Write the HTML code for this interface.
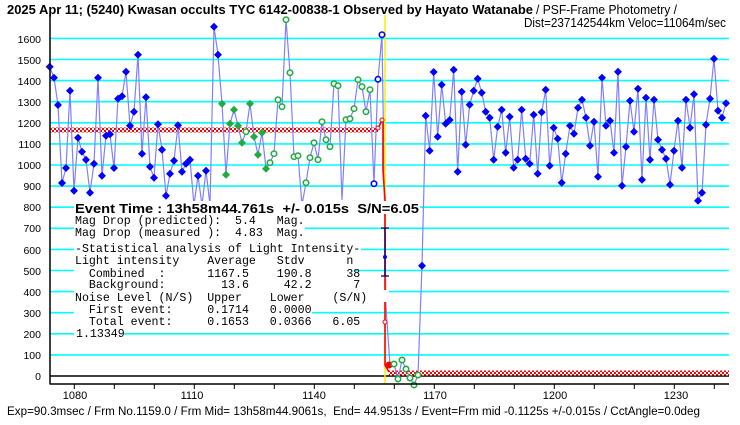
<!DOCTYPE html>
<html><head><meta charset="utf-8"><style>
html,body{margin:0;padding:0;background:#fff;width:740px;height:425px;overflow:hidden}
svg{display:block}
</style></head><body>
<svg width="740" height="425" viewBox="0 0 740 425" xmlns="http://www.w3.org/2000/svg">
<defs>
<pattern id="chk" width="4" height="4" patternUnits="userSpaceOnUse">
<rect width="4" height="4" fill="#ff0000"/><rect x="0" y="0" width="2" height="2" fill="#fff"/><rect x="2" y="2" width="2" height="2" fill="#fff"/>
</pattern>
<symbol id="dB" viewBox="-4 -4 8 8" overflow="visible"><path d="M0,-4 L4,0 L0,4 L-4,0Z" fill="#0000ff"/></symbol>
<symbol id="dG" viewBox="-4 -4 8 8" overflow="visible"><path d="M0,-4 L4,0 L0,4 L-4,0Z" fill="#22aa44"/></symbol>
<symbol id="oG" viewBox="-4 -4 8 8" overflow="visible"><circle r="2.7" fill="#fff" stroke="#22aa44" stroke-width="1.6"/></symbol>
<symbol id="oB" viewBox="-4 -4 8 8" overflow="visible"><circle r="2.7" fill="#fff" stroke="#0000ff" stroke-width="1.6"/></symbol>
</defs>
<rect width="740" height="425" fill="#fff"/>
<g stroke="#00ffff" stroke-width="1.6">
<line x1="50" x2="729" y1="354.9" y2="354.9"/><line x1="50" x2="729" y1="333.8" y2="333.8"/><line x1="50" x2="729" y1="312.7" y2="312.7"/><line x1="50" x2="729" y1="291.6" y2="291.6"/><line x1="50" x2="729" y1="270.5" y2="270.5"/><line x1="50" x2="729" y1="249.4" y2="249.4"/><line x1="50" x2="729" y1="228.3" y2="228.3"/><line x1="50" x2="729" y1="207.2" y2="207.2"/><line x1="50" x2="729" y1="186.1" y2="186.1"/><line x1="50" x2="729" y1="165" y2="165"/><line x1="50" x2="729" y1="143.9" y2="143.9"/><line x1="50" x2="729" y1="122.8" y2="122.8"/><line x1="50" x2="729" y1="101.7" y2="101.7"/><line x1="50" x2="729" y1="80.6" y2="80.6"/><line x1="50" x2="729" y1="59.5" y2="59.5"/><line x1="50" x2="729" y1="38.4" y2="38.4"/>
</g>
<line x1="50" x2="729" y1="376" y2="376" stroke="#000" stroke-width="1.5"/>
<g font-family="Liberation Sans, sans-serif" font-size="10.5" text-anchor="end" fill="#000">
<text x="41" y="380">0</text><text x="41" y="359">100</text><text x="41" y="338">200</text><text x="41" y="317">300</text><text x="41" y="296">400</text><text x="41" y="275">500</text><text x="41" y="254">600</text><text x="41" y="232">700</text><text x="41" y="211">800</text><text x="41" y="190">900</text><text x="41" y="169">1000</text><text x="41" y="148">1100</text><text x="41" y="127">1200</text><text x="41" y="106">1300</text><text x="41" y="85">1400</text><text x="41" y="64">1500</text><text x="41" y="43">1600</text>
</g>
<rect x="50" y="127.5" width="328" height="5" fill="url(#chk)"/>
<rect x="389" y="370.5" width="340" height="5" fill="url(#chk)"/>
<polyline fill="none" stroke="#8080ff" stroke-width="1.2" points="49.7,66.7 54,77.7 58,105 62,183 66,168 70,90.7 74,190.7 78,137.7 82,151.7 86,159.7 90,192.7 94,163.7 98,77.7 102,175.7 106,135.7 110,134.3 114,168 118,98.7 122,96.3 126,71.7 130,125.7 134,111.7 138,54.7 142,153.7 146,97.3 150,166.7 154,177.7 158,124.3 162,149.7 166,195.7 170,173.7 174,160.7 178,125.3 182,171.7 186,163.7 190,159.7 194,205 198,175.7 202,205 206,170.7 210,205 214,26.7 218,54.7 222,103.7 226,174.7 230,123.7 234,109.7 238,125.7 242,142.7 246,131.7 250,103.7 254,136.7 258,154.7 262,132.7 266,168.7 270,162.7 274,153.7 278,99.7 282,106.7 286,19.7 290,72.7 294,156.7 298,155.7 302,205 306,182.7 310,157.7 314,142.7 318,159.7 322,121.7 326,139.7 330,146.7 334,83.7 338,85.7 342,200 346,119.7 350,118.7 354,108.7 358,79.7 362,86.7 366,111.7 370,89.7 374,183.7 378,79.3 382,34.7 386,307 390,365 394,364 398,379 402,360 406,369 410,378 414,385 418,375 422,265.7 425.7,115.7 429.7,150.7 433.7,72 437.7,136.7 441.7,84.7 445.7,123.7 449.7,120 453.7,69.7 457.7,171.7 461.7,91.7 465.7,144.7 469.7,104.7 473.7,90.7 477.7,78.7 481.7,92.7 485.7,111.7 489.7,117.7 493.7,159.7 497.7,126.7 501.7,109.7 505.7,152.7 509.7,116.7 513.7,167.7 517.7,159.7 521.7,109.7 525.7,158.7 529.7,163.7 533.7,114.7 537.7,173.7 541.7,112.3 545.7,89.7 549.7,165.7 553.7,127.7 557.7,138.7 561.7,182.7 565.7,153.7 570,125.7 574,133.7 578,107.7 582,99.7 586,117.7 590,145.7 594,121.7 598,176.7 602,77.7 606,125.7 610,120.7 614,152.7 618,71.7 622,185.7 626,146.7 630,100.7 634,131.7 638,88.7 642,179.7 646,97.7 650,159.7 654,99.7 658,139.7 662,149.7 666,158.7 670,184.7 674,150.7 678,120.7 682,167.7 686,99.7 690,127.7 694,94.3 698,200.7 702,192.7 706,124.7 710,98.7 714,58.7 718,110.7 722,117.7 726,103.3"/>
<line x1="385" y1="15" x2="385" y2="384" stroke="#ffee00" stroke-width="1.5"/>
<polyline fill="none" stroke="#ff0000" stroke-width="1.6" points="378,129 382,120 383,120 383,170 385,200 385,365 389,372"/>
<g stroke="#000080" stroke-width="1.3"><line x1="385" y1="228" x2="385" y2="276"/><line x1="381" y1="228" x2="389" y2="228"/><line x1="381" y1="276" x2="389" y2="276"/></g>
<circle cx="378" cy="128" r="2" fill="#fff" stroke="#f00"/><circle cx="382" cy="120" r="2" fill="#fff" stroke="#f00"/><circle cx="385" cy="322" r="2" fill="#fff" stroke="#f00"/>
<circle cx="385" cy="257" r="2" fill="#0000ff"/>
<circle cx="389" cy="365" r="3.5" fill="#f00"/>
<g>
<use href="#dB" x="45.7" y="62.7" width="8" height="8"/><use href="#dB" x="50" y="73.7" width="8" height="8"/><use href="#dB" x="54" y="101" width="8" height="8"/><use href="#dB" x="58" y="179" width="8" height="8"/><use href="#dB" x="62" y="164" width="8" height="8"/><use href="#dB" x="66" y="86.7" width="8" height="8"/><use href="#dB" x="70" y="186.7" width="8" height="8"/><use href="#dB" x="74" y="133.7" width="8" height="8"/><use href="#dB" x="78" y="147.7" width="8" height="8"/><use href="#dB" x="82" y="155.7" width="8" height="8"/><use href="#dB" x="86" y="188.7" width="8" height="8"/><use href="#dB" x="90" y="159.7" width="8" height="8"/><use href="#dB" x="94" y="73.7" width="8" height="8"/><use href="#dB" x="98" y="171.7" width="8" height="8"/><use href="#dB" x="102" y="131.7" width="8" height="8"/><use href="#dB" x="106" y="130.3" width="8" height="8"/><use href="#dB" x="110" y="164" width="8" height="8"/><use href="#dB" x="114" y="94.7" width="8" height="8"/><use href="#dB" x="118" y="92.3" width="8" height="8"/><use href="#dB" x="122" y="67.7" width="8" height="8"/><use href="#dB" x="126" y="121.7" width="8" height="8"/><use href="#dB" x="130" y="107.7" width="8" height="8"/><use href="#dB" x="134" y="50.7" width="8" height="8"/><use href="#dB" x="138" y="149.7" width="8" height="8"/><use href="#dB" x="142" y="93.3" width="8" height="8"/><use href="#dB" x="146" y="162.7" width="8" height="8"/><use href="#dB" x="150" y="173.7" width="8" height="8"/><use href="#dB" x="154" y="120.3" width="8" height="8"/><use href="#dB" x="158" y="145.7" width="8" height="8"/><use href="#dB" x="162" y="191.7" width="8" height="8"/><use href="#dB" x="166" y="169.7" width="8" height="8"/><use href="#dB" x="170" y="156.7" width="8" height="8"/><use href="#dB" x="174" y="121.3" width="8" height="8"/><use href="#dB" x="178" y="167.7" width="8" height="8"/><use href="#dB" x="182" y="159.7" width="8" height="8"/><use href="#dB" x="186" y="155.7" width="8" height="8"/><use href="#dB" x="194" y="171.7" width="8" height="8"/><use href="#dB" x="202" y="166.7" width="8" height="8"/><use href="#dB" x="210" y="22.7" width="8" height="8"/><use href="#dB" x="214" y="50.7" width="8" height="8"/>
<use href="#dG" x="218" y="99.7" width="8" height="8"/><use href="#dG" x="222" y="170.7" width="8" height="8"/><use href="#dG" x="226" y="119.7" width="8" height="8"/><use href="#dG" x="230" y="105.7" width="8" height="8"/><use href="#dG" x="234" y="121.7" width="8" height="8"/><use href="#dG" x="238" y="138.7" width="8" height="8"/><use href="#oG" x="242" y="127.7" width="8" height="8"/><use href="#dG" x="246" y="99.7" width="8" height="8"/><use href="#dG" x="250" y="132.7" width="8" height="8"/><use href="#dG" x="254" y="150.7" width="8" height="8"/><use href="#dG" x="258" y="128.7" width="8" height="8"/><use href="#dG" x="262" y="164.7" width="8" height="8"/>
<use href="#oG" x="266" y="158.7" width="8" height="8"/><use href="#oG" x="270" y="149.7" width="8" height="8"/><use href="#oG" x="274" y="95.7" width="8" height="8"/><use href="#oG" x="278" y="102.7" width="8" height="8"/><use href="#oG" x="282" y="15.7" width="8" height="8"/><use href="#oG" x="286" y="68.7" width="8" height="8"/><use href="#oG" x="290" y="152.7" width="8" height="8"/><use href="#oG" x="294" y="151.7" width="8" height="8"/><use href="#oG" x="302" y="178.7" width="8" height="8"/><use href="#oG" x="306" y="153.7" width="8" height="8"/><use href="#oG" x="310" y="138.7" width="8" height="8"/><use href="#oG" x="314" y="155.7" width="8" height="8"/><use href="#oG" x="318" y="117.7" width="8" height="8"/><use href="#oG" x="322" y="135.7" width="8" height="8"/><use href="#oG" x="326" y="142.7" width="8" height="8"/><use href="#oG" x="330" y="79.7" width="8" height="8"/><use href="#oG" x="334" y="81.7" width="8" height="8"/><use href="#oG" x="342" y="115.7" width="8" height="8"/><use href="#oG" x="346" y="114.7" width="8" height="8"/><use href="#oG" x="350" y="104.7" width="8" height="8"/><use href="#oG" x="354" y="75.7" width="8" height="8"/><use href="#oG" x="358" y="82.7" width="8" height="8"/><use href="#oG" x="362" y="107.7" width="8" height="8"/><use href="#oG" x="366" y="85.7" width="8" height="8"/>
<use href="#oB" x="370" y="179.7" width="8" height="8"/><use href="#oB" x="374" y="75.3" width="8" height="8"/><use href="#oB" x="378" y="30.7" width="8" height="8"/>
<use href="#oG" x="390" y="360" width="8" height="8"/><use href="#oG" x="394" y="375" width="8" height="8"/><use href="#oG" x="398" y="356" width="8" height="8"/><use href="#oG" x="402" y="365" width="8" height="8"/><use href="#oG" x="406" y="374" width="8" height="8"/><use href="#oG" x="410" y="381" width="8" height="8"/><use href="#oG" x="414" y="371" width="8" height="8"/>
<use href="#dB" x="418" y="261.7" width="8" height="8"/><use href="#dB" x="421.7" y="111.7" width="8" height="8"/><use href="#dB" x="425.7" y="146.7" width="8" height="8"/><use href="#dB" x="429.7" y="68" width="8" height="8"/><use href="#dB" x="433.7" y="132.7" width="8" height="8"/><use href="#dB" x="437.7" y="80.7" width="8" height="8"/><use href="#dB" x="441.7" y="119.7" width="8" height="8"/><use href="#dB" x="445.7" y="116" width="8" height="8"/><use href="#dB" x="449.7" y="65.7" width="8" height="8"/><use href="#dB" x="453.7" y="167.7" width="8" height="8"/><use href="#dB" x="457.7" y="87.7" width="8" height="8"/><use href="#dB" x="461.7" y="140.7" width="8" height="8"/><use href="#dB" x="465.7" y="100.7" width="8" height="8"/><use href="#dB" x="469.7" y="86.7" width="8" height="8"/><use href="#dB" x="473.7" y="74.7" width="8" height="8"/><use href="#dB" x="477.7" y="88.7" width="8" height="8"/><use href="#dB" x="481.7" y="107.7" width="8" height="8"/><use href="#dB" x="485.7" y="113.7" width="8" height="8"/><use href="#dB" x="489.7" y="155.7" width="8" height="8"/><use href="#dB" x="493.7" y="122.7" width="8" height="8"/><use href="#dB" x="497.7" y="105.7" width="8" height="8"/><use href="#dB" x="501.7" y="148.7" width="8" height="8"/><use href="#dB" x="505.7" y="112.7" width="8" height="8"/><use href="#dB" x="509.7" y="163.7" width="8" height="8"/><use href="#dB" x="513.7" y="155.7" width="8" height="8"/><use href="#dB" x="517.7" y="105.7" width="8" height="8"/><use href="#dB" x="521.7" y="154.7" width="8" height="8"/><use href="#dB" x="525.7" y="159.7" width="8" height="8"/><use href="#dB" x="529.7" y="110.7" width="8" height="8"/><use href="#dB" x="533.7" y="169.7" width="8" height="8"/><use href="#dB" x="537.7" y="108.3" width="8" height="8"/><use href="#dB" x="541.7" y="85.7" width="8" height="8"/><use href="#dB" x="545.7" y="161.7" width="8" height="8"/><use href="#dB" x="549.7" y="123.7" width="8" height="8"/><use href="#dB" x="553.7" y="134.7" width="8" height="8"/><use href="#dB" x="557.7" y="178.7" width="8" height="8"/><use href="#dB" x="561.7" y="149.7" width="8" height="8"/><use href="#dB" x="566" y="121.7" width="8" height="8"/><use href="#dB" x="570" y="129.7" width="8" height="8"/><use href="#dB" x="574" y="103.7" width="8" height="8"/><use href="#dB" x="578" y="95.7" width="8" height="8"/><use href="#dB" x="582" y="113.7" width="8" height="8"/><use href="#dB" x="586" y="141.7" width="8" height="8"/><use href="#dB" x="590" y="117.7" width="8" height="8"/><use href="#dB" x="594" y="172.7" width="8" height="8"/><use href="#dB" x="598" y="73.7" width="8" height="8"/><use href="#dB" x="602" y="121.7" width="8" height="8"/><use href="#dB" x="606" y="116.7" width="8" height="8"/><use href="#dB" x="610" y="148.7" width="8" height="8"/><use href="#dB" x="614" y="67.7" width="8" height="8"/><use href="#dB" x="618" y="181.7" width="8" height="8"/><use href="#dB" x="622" y="142.7" width="8" height="8"/><use href="#dB" x="626" y="96.7" width="8" height="8"/><use href="#dB" x="630" y="127.7" width="8" height="8"/><use href="#dB" x="634" y="84.7" width="8" height="8"/><use href="#dB" x="638" y="175.7" width="8" height="8"/><use href="#dB" x="642" y="93.7" width="8" height="8"/><use href="#dB" x="646" y="155.7" width="8" height="8"/><use href="#dB" x="650" y="95.7" width="8" height="8"/><use href="#dB" x="654" y="135.7" width="8" height="8"/><use href="#dB" x="658" y="145.7" width="8" height="8"/><use href="#dB" x="662" y="154.7" width="8" height="8"/><use href="#dB" x="666" y="180.7" width="8" height="8"/><use href="#dB" x="670" y="146.7" width="8" height="8"/><use href="#dB" x="674" y="116.7" width="8" height="8"/><use href="#dB" x="678" y="163.7" width="8" height="8"/><use href="#dB" x="682" y="95.7" width="8" height="8"/><use href="#dB" x="686" y="123.7" width="8" height="8"/><use href="#dB" x="690" y="90.3" width="8" height="8"/><use href="#dB" x="694" y="196.7" width="8" height="8"/><use href="#dB" x="698" y="188.7" width="8" height="8"/><use href="#dB" x="702" y="120.7" width="8" height="8"/><use href="#dB" x="706" y="94.7" width="8" height="8"/><use href="#dB" x="710" y="54.7" width="8" height="8"/><use href="#dB" x="714" y="106.7" width="8" height="8"/><use href="#dB" x="718" y="113.7" width="8" height="8"/><use href="#dB" x="722" y="99.3" width="8" height="8"/>
</g>
<line x1="50" y1="15" x2="50" y2="384.5" stroke="#000" stroke-width="1.5"/>
<line x1="50" y1="384" x2="729" y2="384" stroke="#000" stroke-width="1.5"/>
<g stroke="#000" stroke-width="1">
<line x1="74.3" x2="74.3" y1="384" y2="389"/><line x1="114.3" x2="114.3" y1="384" y2="389"/><line x1="154.3" x2="154.3" y1="384" y2="389"/><line x1="194.3" x2="194.3" y1="384" y2="389"/><line x1="234.3" x2="234.3" y1="384" y2="389"/><line x1="274.3" x2="274.3" y1="384" y2="389"/><line x1="314.3" x2="314.3" y1="384" y2="389"/><line x1="354.3" x2="354.3" y1="384" y2="389"/><line x1="394.3" x2="394.3" y1="384" y2="389"/><line x1="434.3" x2="434.3" y1="384" y2="389"/><line x1="474.3" x2="474.3" y1="384" y2="389"/><line x1="514.3" x2="514.3" y1="384" y2="389"/><line x1="554.3" x2="554.3" y1="384" y2="389"/><line x1="594.3" x2="594.3" y1="384" y2="389"/><line x1="634.3" x2="634.3" y1="384" y2="389"/><line x1="674.3" x2="674.3" y1="384" y2="389"/><line x1="714.3" x2="714.3" y1="384" y2="389"/>
</g>
<g font-family="Liberation Sans, sans-serif" font-size="11" text-anchor="middle">
<text x="75" y="399">1080</text><text x="192" y="399">1110</text><text x="314" y="399">1140</text><text x="435" y="399">1170</text><text x="555" y="399">1200</text><text x="676" y="399">1230</text>
</g>
<g fill="#fff">
<rect x="74" y="201" width="346" height="13"/>
<rect x="74" y="214" width="231" height="12"/>
<rect x="74" y="226" width="231" height="12"/>
<rect x="74" y="242" width="287" height="12"/>
<rect x="74" y="254" width="280" height="12"/>
<rect x="74" y="266" width="280" height="12"/>
<rect x="74" y="278" width="287" height="12"/>
<rect x="74" y="290" width="315" height="12"/>
<rect x="74" y="302" width="238" height="12"/>
<rect x="74" y="314" width="280" height="12"/>
<rect x="74" y="326" width="50" height="12"/>
</g>
<text x="75" y="213" font-family="Liberation Sans, sans-serif" font-weight="bold" font-size="13" textLength="344" lengthAdjust="spacingAndGlyphs">Event Time : 13h58m44.761s&#160;&#160;+/- 0.015s&#160;&#160;S/N=6.05</text>
<g font-family="Liberation Mono, monospace" font-size="11.6">
<text x="75" y="224">Mag Drop (predicted):&#160;&#160;5.4&#160;&#160;&#160;Mag.</text>
<text x="75" y="236">Mag Drop (measured ):&#160;&#160;4.83&#160;&#160;Mag.</text>
<text x="75" y="252">-Statistical analysis of Light Intensity-</text>
<text x="75" y="264">Light intensity&#160;&#160;&#160;&#160;Average&#160;&#160;&#160;Stdv&#160;&#160;&#160;&#160;&#160;&#160;n</text>
<text x="75" y="277">&#160;&#160;Combined&#160;&#160;:&#160;&#160;&#160;&#160;&#160;&#160;1167.5&#160;&#160;&#160;&#160;190.8&#160;&#160;&#160;&#160;&#160;38</text>
<text x="75" y="288">&#160;&#160;Background:&#160;&#160;&#160;&#160;&#160;&#160;&#160;&#160;13.6&#160;&#160;&#160;&#160;&#160;42.2&#160;&#160;&#160;&#160;&#160;&#160;7</text>
<text x="75" y="301">Noise Level (N/S)&#160;&#160;Upper&#160;&#160;&#160;&#160;Lower&#160;&#160;&#160;&#160;(S/N)</text>
<text x="75" y="313">&#160;&#160;First event:&#160;&#160;&#160;&#160;&#160;0.1714&#160;&#160;&#160;0.0000</text>
<text x="75" y="325">&#160;&#160;Total event:&#160;&#160;&#160;&#160;&#160;0.1653&#160;&#160;&#160;0.0366&#160;&#160;&#160;6.05</text>
<text x="76" y="337">1.13349</text>
</g>
<text x="7" y="14" font-family="Liberation Sans, sans-serif" font-size="12.5" font-weight="bold" textLength="526" lengthAdjust="spacingAndGlyphs">2025 Apr 11; (5240) Kwasan occults TYC 6142-00838-1 Observed by Hayato Watanabe</text>
<text x="536" y="14" font-family="Liberation Sans, sans-serif" font-size="12.5" textLength="141" lengthAdjust="spacingAndGlyphs">/ PSF-Frame Photometry /</text>
<text x="524" y="27" font-family="Liberation Sans, sans-serif" font-size="12.5" textLength="202" lengthAdjust="spacingAndGlyphs">Dist=237142544km Veloc=11064m/sec</text>
<text x="7" y="415" font-family="Liberation Sans, sans-serif" font-size="11.5" textLength="693" lengthAdjust="spacingAndGlyphs">Exp=90.3msec / Frm No.1159.0 / Frm Mid= 13h58m44.9061s,&#160;&#160;End= 44.9513s / Event=Frm mid -0.1125s +/-0.015s / CctAngle=0.0deg</text>
</svg>
</body></html>
